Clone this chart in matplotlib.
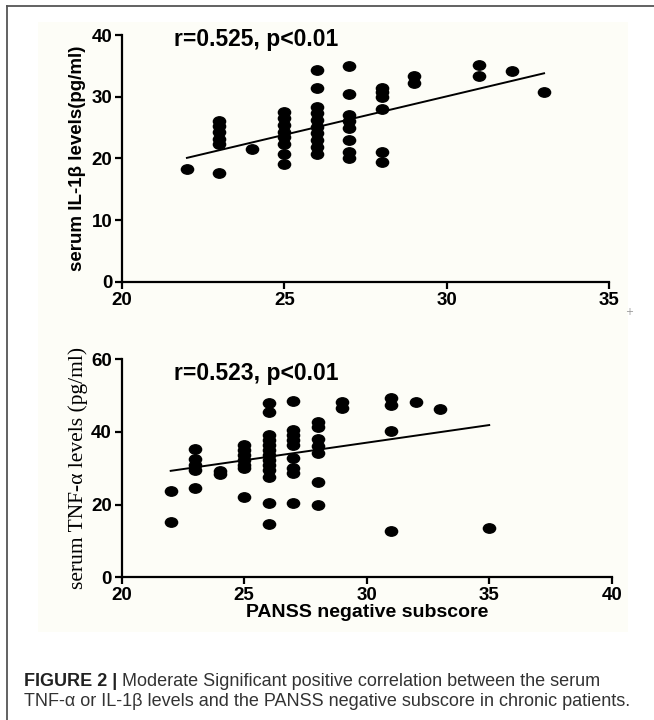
import matplotlib
matplotlib.use('Agg')
import matplotlib.pyplot as plt
from matplotlib.path import Path
from matplotlib.transforms import Affine2D, offset_copy
from matplotlib.patches import Rectangle
from matplotlib.lines import Line2D

# top panel: serum IL-1beta vs PANSS negative subscore
il_x = [22,
        23, 23, 23, 23, 23, 23,
        24,
        25, 25, 25, 25, 25, 25, 25, 25,
        26, 26, 26, 26, 26, 26, 26, 26, 26, 26,
        27, 27, 27, 27, 27, 27, 27, 27,
        28, 28, 28, 28, 28, 28,
        29, 29,
        31, 31,
        32,
        33]
il_y = [18.3,
        26.0, 25.3, 24.3, 23.2, 22.3, 17.7,
        21.6,
        27.6, 26.5, 25.4, 24.3, 23.5, 22.4, 20.8, 19.1,
        34.3, 31.4, 28.3, 27.3, 26.2, 25.1, 24.1, 23.0, 21.9, 20.8,
        34.9, 30.4, 27.0, 26.0, 25.0, 23.0, 21.0, 20.0,
        31.4, 30.8, 30.0, 28.0, 21.1, 19.5,
        33.4, 32.3,
        35.1, 33.3,
        34.1,
        30.7]
il_fit_x = [22, 33]
il_fit_y = [20.1, 33.8]

# bottom panel: serum TNF-alpha vs PANSS negative subscore
tnf_x = [22, 22,
         23, 23, 23, 23, 23,
         24, 24,
         25, 25, 25, 25, 25, 25, 25,
         26, 26, 26, 26, 26, 26, 26, 26, 26, 26, 26, 26, 26,
         27, 27, 27, 27, 27, 27, 27, 27, 27,
         28, 28, 28, 28, 28, 28, 28,
         29, 29,
         31, 31, 31, 31,
         32,
         33,
         35]
tnf_y = [23.8, 15.2,
         35.4, 32.5, 31.0, 29.5, 24.6,
         29.3, 28.3,
         36.4, 35.0, 33.7, 32.3, 30.9, 30.0, 22.2,
         47.9, 45.6, 39.2, 37.8, 36.4, 35.0, 33.7, 32.3, 30.9, 29.5, 27.7, 20.5, 14.7,
         48.5, 40.5, 39.2, 37.8, 36.4, 32.8, 30.0, 28.6, 20.5,
         42.8, 41.5, 38.0, 36.0, 34.1, 26.3, 19.9,
         48.3, 46.5,
         49.3, 47.4, 40.4, 12.8,
         48.3,
         46.3,
         13.5]
tnf_fit_x = [22, 35]
tnf_fit_y = [29.3, 41.9]

BG = '#fdfdf7'
ELLIPSE = Path.unit_circle().transformed(Affine2D().scale(1.3, 1.0))


def style_axes(ax, xticks, yticks):
	ax.set_facecolor(BG)
	for side in ['top', 'right']:
		ax.spines[side].set_visible(False)
	for side in ['left', 'bottom']:
		ax.spines[side].set_linewidth(1.6)
	ax.tick_params(direction='out', length=5, width=1.6, pad=2, labelsize=13.5)
	ax.set_xticks(xticks)
	ax.set_yticks(yticks)
	for lab in ax.get_xticklabels() + ax.get_yticklabels():
		lab.set_fontweight('bold')
		lab.set_family('Liberation Sans')


def plot_panel(ax, xs, ys, fx, fy, label, label_y):
	ax.plot(xs, ys, linestyle='none', marker=ELLIPSE, markersize=8.8,
		color='black', clip_on=False)
	ax.plot(fx, fy, color='black', lw=1.4)
	ax.text(0.106, label_y, label, transform=ax.transAxes, fontsize=16.5,
		fontweight='bold', family='Liberation Sans', va='center', ha='left')


fig = plt.figure(figsize=(6.54, 7.2), dpi=100)
fig.patch.set_facecolor('white')
fig.patches.append(Rectangle((38 / 654, 1 - 632 / 720), 590 / 654, 610 / 720,
	transform=fig.transFigure, facecolor=BG, edgecolor='none', zorder=-5))
fig.add_artist(Line2D([7 / 654, 7 / 654], [0, 1 - 6 / 720], transform=fig.transFigure,
	color='#555555', lw=1.3))
fig.add_artist(Line2D([7 / 654, 1], [1 - 6 / 720, 1 - 6 / 720], transform=fig.transFigure,
	color='#555555', lw=1.3))

ax1 = fig.add_axes([122 / 654, 1 - 282 / 720, 487 / 654, 247 / 720])
plot_panel(ax1, il_x, il_y, il_fit_x, il_fit_y, 'r=0.525, p<0.01', 0.98)
ax1.set_xlim(20, 35)
ax1.set_ylim(0, 40)
style_axes(ax1, [20, 25, 30, 35], [0, 10, 20, 30, 40])
ax1.set_ylabel('serum IL-1\u03b2 levels(pg/ml)', fontsize=13.5, fontweight='bold',
	family='Liberation Sans', labelpad=4)

ax2 = fig.add_axes([121.7 / 654, 1 - 577.3 / 720, 490 / 654, 218 / 720])
plot_panel(ax2, tnf_x, tnf_y, tnf_fit_x, tnf_fit_y, 'r=0.523, p<0.01', 0.937)
ax2.set_xlim(20, 40)
ax2.set_ylim(0, 60)
style_axes(ax2, [20, 25, 30, 35, 40], [0, 20, 40, 60])
ax2.set_ylabel('serum TNF-\u03b1 levels (pg/ml)', fontsize=15.5,
	family='Liberation Serif', labelpad=2)
ax2.set_xlabel('PANSS negative subscore', fontsize=14, fontweight='bold',
	family='Liberation Sans', labelpad=0)

fig.text(629 / 654, 1 - 312 / 720, '+', fontsize=7, color='#999999', ha='center', va='center')

cap = fig.text(24 / 654, 1 - 686 / 720, 'FIGURE 2 |', fontsize=13, fontweight='bold',
	family='Liberation Sans', color='#222222', va='baseline')
fig.canvas.draw()
fig.text(0, 0, ' Moderate Significant positive correlation between the serum',
	fontsize=13, family='Liberation Sans', color='#333333', va='baseline',
	transform=offset_copy(fig.transFigure, fig=fig,
		x=cap.get_window_extent().x1, y=(1 - 686 / 720) * 720, units='dots'))
fig.text(24 / 654, 1 - 706 / 720,
	'TNF-\u03b1 or IL-1\u03b2 levels and the PANSS negative subscore in chronic patients.',
	fontsize=13, family='Liberation Sans', color='#333333', va='baseline')

fig.savefig('out.png', dpi=100, facecolor='white')
